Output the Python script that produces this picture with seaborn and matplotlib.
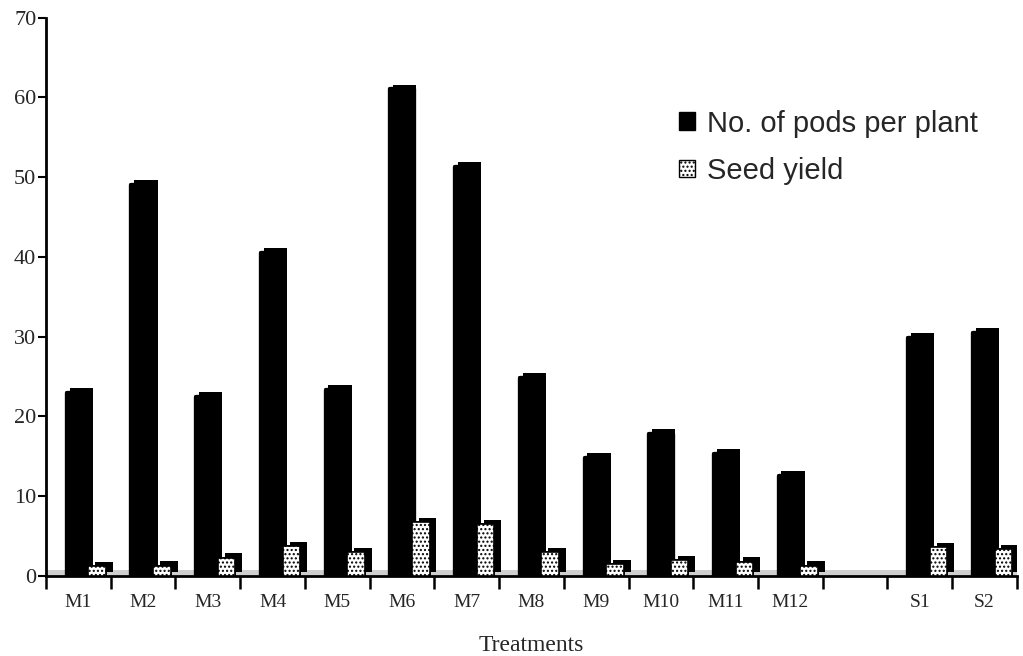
import matplotlib
matplotlib.use("Agg")
import matplotlib.pyplot as plt
import matplotlib.patheffects as pe
from matplotlib.transforms import Affine2D
from matplotlib.patches import Patch
import numpy as np
import pandas as pd
import seaborn as sns

# Treatments (an empty slot separates the M series from the S series)
treatments = ["M1", "M2", "M3", "M4", "M5", "M6", "M7", "M8", "M9", "M10",
              "M11", "M12", "S1", "S2"]
slot_order = ["M1", "M2", "M3", "M4", "M5", "M6", "M7", "M8", "M9", "M10",
              "M11", "M12", "", "S1", "S2"]

pods_per_plant = [23.0, 49.0, 22.5, 40.5, 23.3, 61.0, 51.3, 24.8, 14.8, 17.8,
                  15.3, 12.5, 29.8, 30.5]
seed_yield = [1.2, 1.3, 2.3, 3.7, 3.0, 6.8, 6.5, 3.0, 1.5, 2.0,
              1.8, 1.3, 3.6, 3.4]

y_ticks = [0, 10, 20, 30, 40, 50, 60, 70]

df = pd.DataFrame({"Treatment": treatments,
                   "pods": pods_per_plant,
                   "seed": seed_yield})

sns.set_theme(style="white")
plt.rcParams["font.family"] = ["Liberation Serif", "DejaVu Serif"]

fig = plt.figure(figsize=(10.23, 6.56), dpi=100)
ax = fig.add_axes([0.045, 0.122, 0.949, 0.851])

# 3D-looking floor strip along the base
ax.axhspan(0, 0.7, facecolor="#cfcfcf", edgecolor="none", zorder=0)

sns.barplot(data=df, x="Treatment", y="pods", order=slot_order,
            color="black", width=0.36, saturation=1, errorbar=None,
            edgecolor="black", linewidth=3, ax=ax, zorder=2)

sns.barplot(data=df, x="Treatment", y="seed", order=slot_order,
            color="white", width=0.27, saturation=1, errorbar=None,
            edgecolor="black", linewidth=1.2, ax=ax, zorder=3)

# depth faces: each bar casts a solid black side/top face up and to the right
pod_depth = [pe.withSimplePatchShadow(offset=(2, 3.5), shadow_rgbFace="black",
                                      alpha=1.0), pe.Normal()]
seed_depth = [pe.withSimplePatchShadow(offset=(5, 3), shadow_rgbFace="black",
                                       alpha=1.0), pe.Normal()]
for bar in ax.containers[0]:
    bar.set_joinstyle("round")
    bar.set_path_effects(pod_depth)

# seed-yield bars sit in front, to the right of the pod bars
shift = Affine2D().translate(0.29, 0) + ax.transData
for bar in ax.containers[1]:
    bar.set_transform(shift)
    bar.set_hatch("....")
    bar.set_path_effects(seed_depth)

ax.set_xlim(-0.5, len(slot_order) - 0.5)
ax.set_ylim(0, 70)
ax.set_yticks(y_ticks)
ax.set_yticklabels([str(v) for v in y_ticks], fontsize=16)

ax.set_xticks(range(len(slot_order)))
ax.set_xticklabels(slot_order, fontsize=14)
ax.set_xticks(np.arange(len(slot_order) + 1) - 0.5, minor=True)
ax.tick_params(axis="x", which="major", length=0, pad=13)
ax.tick_params(axis="x", which="minor", length=9, width=1.8,
               direction="out", color="black", bottom=True)
ax.tick_params(axis="y", which="major", length=6, width=1.5,
               direction="out", color="black", left=True, pad=1)

ax.set_xlabel("Treatments", fontsize=17, labelpad=17)
ax.set_ylabel("")

for side in ("top", "right"):
    ax.spines[side].set_visible(False)
for side in ("left", "bottom"):
    ax.spines[side].set_color("black")
    ax.spines[side].set_linewidth(2)

handles = [Patch(facecolor="black", edgecolor="black"),
           Patch(facecolor="white", edgecolor="black", hatch="....")]
ax.legend(handles, ["No. of pods per plant", "Seed yield"],
          loc="upper left", bbox_to_anchor=(0.638, 0.873),
          bbox_transform=fig.transFigure, frameon=False,
          prop={"family": ["Liberation Sans", "DejaVu Sans"], "size": 21},
          handlelength=0.55, handleheight=0.55, handletextpad=0.4,
          labelspacing=0.66)

fig.savefig("out.png", dpi=100)
